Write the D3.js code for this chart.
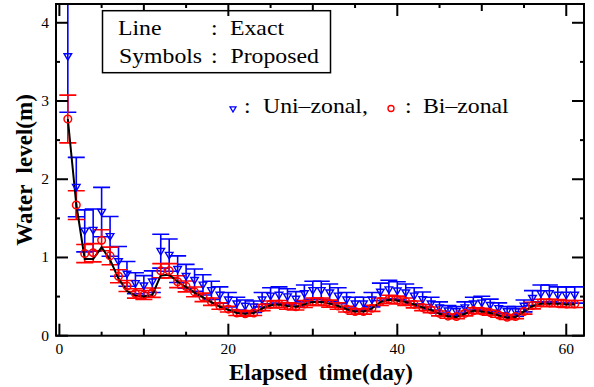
<!DOCTYPE html>
<html>
<head>
<meta charset="utf-8">
<script src="https://cdn.jsdelivr.net/npm/d3@7"></script>
<style>
  body { margin: 0; background: #fff; }
  svg { display: block; }
</style>
</head>
<body>
<svg id="chart" width="594" height="387" font-family="'Liberation Serif', 'DejaVu Serif', serif"></svg>
<script>
// elapsed days
const days = [1,2,3,4,5,6,7,8,9,10,11,12,13,14,15,16,17,18,19,20,
  21,22,23,24,25,26,27,28,29,30,31,32,33,34,35,36,37,38,39,40,
  41,42,43,44,45,46,47,48,49,50,51,52,53,54,55,56,57,58,59,60,61];

// water level (m)
const exact = [2.77,1.68,0.98,0.98,1.13,0.97,0.73,0.57,0.51,0.50,
  0.52,0.77,0.78,0.69,0.62,0.55,0.49,0.43,0.37,0.33,
  0.29,0.28,0.29,0.35,0.39,0.40,0.38,0.37,0.40,0.43,
  0.43,0.41,0.38,0.34,0.31,0.31,0.35,0.43,0.46,0.45,
  0.43,0.40,0.36,0.33,0.28,0.25,0.24,0.28,0.32,0.31,
  0.29,0.26,0.23,0.24,0.31,0.38,0.41,0.41,0.41,0.40,0.40];

const uniZonal = [3.57,1.90,1.34,1.35,1.58,1.27,0.95,0.79,0.67,0.64,
  0.69,1.08,1.03,0.85,0.76,0.71,0.65,0.58,0.52,0.46,
  0.41,0.38,0.37,0.46,0.51,0.52,0.50,0.47,0.54,0.58,
  0.58,0.55,0.51,0.46,0.41,0.41,0.46,0.56,0.59,0.575,
  0.55,0.51,0.465,0.41,0.36,0.32,0.31,0.36,0.41,0.42,
  0.39,0.35,0.31,0.31,0.38,0.48,0.54,0.54,0.52,0.52,0.52];

const biZonal = [2.77,1.67,1.05,1.06,1.22,1.02,0.76,0.635,0.54,0.52,
  0.55,0.83,0.83,0.69,0.63,0.56,0.49,0.435,0.38,0.34,
  0.29,0.28,0.29,0.36,0.40,0.405,0.38,0.37,0.405,0.435,
  0.435,0.41,0.38,0.34,0.31,0.31,0.35,0.435,0.465,0.456,
  0.435,0.40,0.36,0.33,0.285,0.25,0.245,0.285,0.32,0.315,
  0.295,0.265,0.235,0.245,0.31,0.385,0.42,0.42,0.415,0.405,0.405];

// relative half-width of the error bars
const uniErr = 0.2;
const biErr = 0.11;

const xLabelTicks = [0, 20, 40, 60];
const xMidTicks = [10, 30, 50];
const xMinorTicks = [5, 15, 25, 35, 45, 55];
const yMajorTicks = [0, 1, 2, 3, 4];
const yMinorTicks = [0.5, 1.5, 2.5, 3.5];

const pLeft = 56, pRight = 584, pTop = 4, pBottom = 335.7;

const svg = d3.select("#chart");

const x = d3.scaleLinear().domain([-0.4, 62.1]).range([pLeft, pRight]);
const y = d3.scaleLinear().domain([0, 4.24]).range([pBottom, pTop]);

svg.append("defs").append("clipPath").attr("id", "plot")
  .append("rect")
  .attr("x", pLeft).attr("y", pTop)
  .attr("width", pRight - pLeft).attr("height", pBottom - pTop);

const plot = svg.append("g").attr("clip-path", "url(#plot)");

// error bars
function errorBars(values, frac, color) {
  const g = plot.append("g").attr("stroke", color).attr("stroke-width", 1.6).attr("fill", "none");
  values.forEach((v, i) => {
    const cx = x(days[i]);
    const hi = y(v * (1 + frac)), lo = y(v * (1 - frac));
    g.append("line").attr("x1", cx).attr("x2", cx).attr("y1", hi).attr("y2", lo);
    g.append("line").attr("x1", cx - 8.5).attr("x2", cx + 8.5).attr("y1", hi).attr("y2", hi);
    g.append("line").attr("x1", cx - 8.5).attr("x2", cx + 8.5).attr("y1", lo).attr("y2", lo);
  });
}
errorBars(uniZonal, uniErr, "#0000ff");
errorBars(biZonal, biErr, "#ff0000");

// exact solution
const line = d3.line().x((d, i) => x(days[i])).y(d => y(d));
plot.append("path")
  .datum(exact)
  .attr("d", line)
  .attr("fill", "none")
  .attr("stroke", "#000")
  .attr("stroke-width", 2);

// markers
const triangle = "M-3.8,-2.7L3.8,-2.7L0,3.8Z";
plot.append("g").selectAll("path")
  .data(uniZonal)
  .join("path")
  .attr("d", triangle)
  .attr("transform", (d, i) => `translate(${x(days[i])},${y(d)})`)
  .attr("fill", "none")
  .attr("stroke", "#0000ff")
  .attr("stroke-width", 1.4);

plot.append("g").selectAll("circle")
  .data(biZonal)
  .join("circle")
  .attr("cx", (d, i) => x(days[i]))
  .attr("cy", d => y(d))
  .attr("r", 3.8)
  .attr("fill", "none")
  .attr("stroke", "#ff0000")
  .attr("stroke-width", 1.5);

// frame
svg.append("rect")
  .attr("x", pLeft).attr("y", pTop)
  .attr("width", pRight - pLeft).attr("height", pBottom - pTop)
  .attr("fill", "none").attr("stroke", "#000").attr("stroke-width", 2);

// inward ticks on all four sides
const ticks = svg.append("g").attr("stroke", "#000").attr("stroke-width", 2);
function xTicks(vals, len) {
  vals.forEach(v => {
    ticks.append("line").attr("x1", x(v)).attr("x2", x(v)).attr("y1", pBottom).attr("y2", pBottom - len);
    ticks.append("line").attr("x1", x(v)).attr("x2", x(v)).attr("y1", pTop).attr("y2", pTop + len);
  });
}
function yTicks(vals, len) {
  vals.forEach(v => {
    ticks.append("line").attr("x1", pLeft).attr("x2", pLeft + len).attr("y1", y(v)).attr("y2", y(v));
    ticks.append("line").attr("x1", pRight).attr("x2", pRight - len).attr("y1", y(v)).attr("y2", y(v));
  });
}
xTicks(xLabelTicks, 12);
xTicks(xMidTicks, 7);
xTicks(xMinorTicks, 4);
yTicks(yMajorTicks, 12);
yTicks(yMinorTicks, 4);

// tick labels
svg.append("g").selectAll("text")
  .data(xLabelTicks)
  .join("text")
  .attr("x", d => x(d))
  .attr("y", 354)
  .attr("text-anchor", "middle")
  .attr("font-size", 15.5)
  .text(d => d);

svg.append("g").selectAll("text")
  .data(yMajorTicks)
  .join("text")
  .attr("x", 49)
  .attr("y", d => y(d) + 5)
  .attr("text-anchor", "end")
  .attr("font-size", 15.5)
  .text(d => d);

// axis titles
svg.append("text")
  .attr("x", 321).attr("y", 380)
  .attr("text-anchor", "middle")
  .attr("font-size", 23).attr("font-weight", "bold")
  .attr("xml:space", "preserve")
  .text("Elapsed  time(day)");

svg.append("text")
  .attr("transform", "translate(32,170) rotate(-90)")
  .attr("text-anchor", "middle")
  .attr("font-size", 23).attr("font-weight", "bold")
  .attr("xml:space", "preserve")
  .text("Water  level(m)");

// legend box
svg.append("rect")
  .attr("x", 102.5).attr("y", 10.7)
  .attr("width", 228).attr("height", 62)
  .attr("fill", "none").attr("stroke", "#000").attr("stroke-width", 1.5);

// legend text is a little wider than the plain font
const leg = svg.append("g").attr("font-size", 22);
function legText(px, py, s) {
  leg.append("text")
    .attr("transform", `translate(${px},${py}) scale(1.08,1)`)
    .text(s);
}
legText(118, 35, "Line");
legText(211, 35, ":");
legText(230, 35, "Exact");
legText(119, 63, "Symbols");
legText(211, 63, ":");
legText(230.5, 63, "Proposed");

// series key
svg.append("path")
  .attr("d", "M-3,-2.2L3,-2.2L0,3Z")
  .attr("transform", "translate(233,109)")
  .attr("fill", "none").attr("stroke", "#0000ff").attr("stroke-width", 1.3);
svg.append("circle")
  .attr("cx", 391).attr("cy", 108.5).attr("r", 3)
  .attr("fill", "none").attr("stroke", "#ff0000").attr("stroke-width", 1.4);

legText(244, 113, ":");
legText(263, 113, "Uni\u2013zonal,");
legText(405, 113, ":");
legText(423, 113, "Bi\u2013zonal");
</script>
</body>
</html>
